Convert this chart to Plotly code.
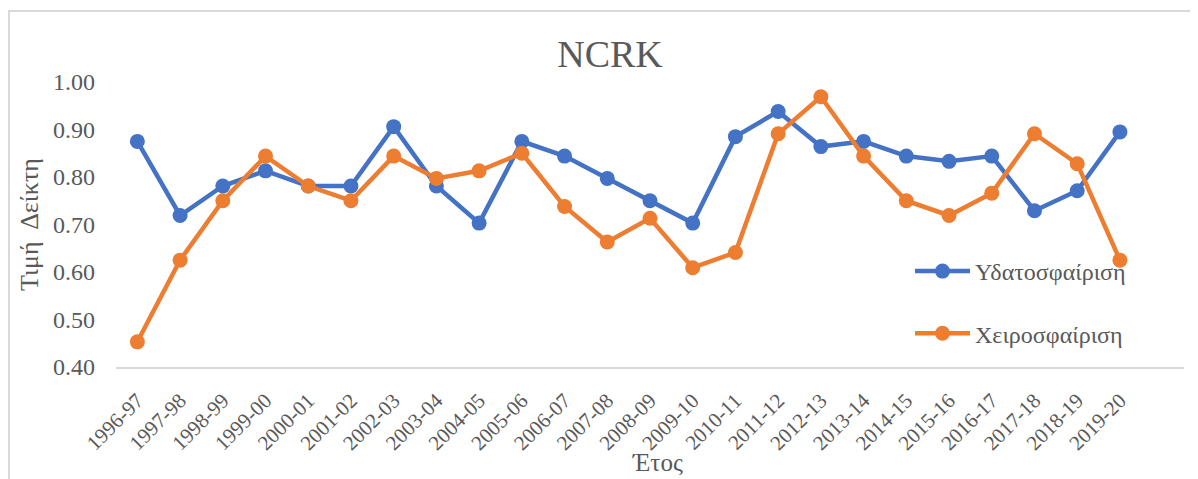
import plotly.graph_objects as go

seasons = ["1996-97", "1997-98", "1998-99", "1999-00", "2000-01", "2001-02", "2002-03",
           "2003-04", "2004-05", "2005-06", "2006-07", "2007-08", "2008-09", "2009-10",
           "2010-11", "2011-12", "2012-13", "2013-14", "2014-15", "2015-16", "2016-17",
           "2017-18", "2018-19", "2019-20"]

water_polo = [0.875, 0.719, 0.781, 0.813, 0.781, 0.781, 0.906, 0.781, 0.703, 0.875,
              0.844, 0.797, 0.750, 0.703, 0.885, 0.938, 0.864, 0.875, 0.844, 0.833,
              0.844, 0.729, 0.771, 0.895]

handball = [0.453, 0.625, 0.750, 0.844, 0.781, 0.750, 0.844, 0.797, 0.813, 0.850,
            0.738, 0.663, 0.713, 0.609, 0.641, 0.891, 0.969, 0.844, 0.750, 0.719,
            0.766, 0.891, 0.828, 0.625]

y_ticks = [0.40, 0.50, 0.60, 0.70, 0.80, 0.90, 1.00]

FONT = "Liberation Serif, DejaVu Serif, serif"
GREY = "#595959"

# page has an 8px body margin; figure coords = page coords - 8
OFF = 8
W, H = 1198, 479
L = 116 - OFF
T = 82 - OFF
PR = 1184 - OFF   # plot right edge (fig coords)
PB = 367 - OFF    # plot bottom edge (fig coords)
R = W - PR
B = H - PB
pw, ph = PR - L, PB - T


def px_x(page_x):
    return (page_x - OFF - L) / pw


def px_y(page_y):
    return (PB - (page_y - OFF)) / ph


fig = go.Figure()
fig.add_trace(go.Scatter(
    x=seasons, y=water_polo, mode="lines+markers", name="Υδατοσφαίριση",
    line=dict(color="#4472C4", width=4.5), marker=dict(size=15, color="#4472C4"),
    legendgroup="a"))
fig.add_trace(go.Scatter(
    x=seasons, y=handball, mode="lines+markers", name="Χειροσφαίριση",
    line=dict(color="#ED7D31", width=4.5), marker=dict(size=15, color="#ED7D31"),
    legendgroup="b"))

# outer chart border (top and left visible)
fig.add_shape(type="rect", xref="paper", yref="paper",
              x0=(1 - L) / pw, x1=(W + 30 - L) / pw,
              y0=-(B + 30) / ph, y1=px_y(11),
              line=dict(color="#D9D9D9", width=2), layer="below")

fig.add_annotation(text="Έτος", xref="paper", yref="paper",
                   x=px_x(657), y=px_y(462), xanchor="center", yanchor="middle",
                   showarrow=False, font=dict(family=FONT, size=25, color=GREY))

fig.update_layout(
    width=W, height=H,
    margin=dict(l=L, r=R, t=T, b=B, autoexpand=False),
    paper_bgcolor="white", plot_bgcolor="white",
    title=dict(text="NCRK", x=(610 - OFF) / W, xanchor="center",
               y=1 - (54 - OFF) / H, yanchor="middle",
               font=dict(family=FONT, size=38, color=GREY)),
    font=dict(family=FONT, color=GREY),
    showlegend=True,
    legend=dict(x=px_x(910), y=px_y(249), xanchor="left", yanchor="top",
                bgcolor="rgba(0,0,0,0)", font=dict(family=FONT, size=24, color=GREY),
                tracegroupgap=28, itemwidth=55),
    xaxis=dict(type="category", range=[-0.5, len(seasons) + 0.5],
               tickangle=-45, tickfont=dict(family=FONT, size=21, color=GREY),
               showgrid=False, showline=True, linecolor="#D9D9D9", linewidth=2,
               ticks="", zeroline=False, ticklabelstandoff=11),
    yaxis=dict(range=[0.40, 1.00], tickvals=y_ticks, ticktext=[f"{v:.2f}" for v in y_ticks],
               tickfont=dict(family=FONT, size=24, color=GREY),
               showgrid=False, showline=False, zeroline=False, ticks="", ticklabelstandoff=20,
               title=dict(text="Τιμή\u00a0 Δείκτη", font=dict(family=FONT, size=26, color=GREY),
                          standoff=6)),
)

fig.write_html("out.html")
